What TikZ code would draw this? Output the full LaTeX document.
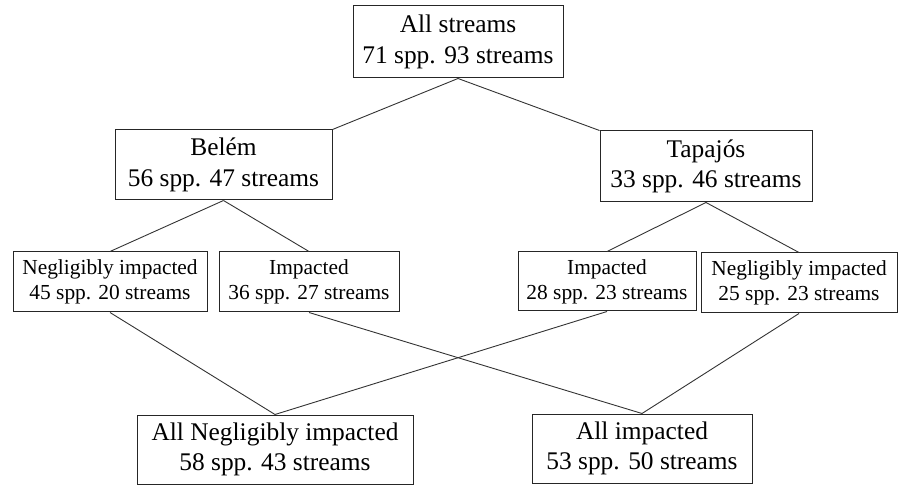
\documentclass[tikz,border=0pt]{standalone}
\usepackage{fontspec}
\setmainfont{Liberation Serif}
\begin{document}
\begin{tikzpicture}[x=1pt,y=1pt,
  bigbox/.style={draw=black!85, line width=1pt, fill=white, inner sep=0pt, align=center,
    font=\fontsize{25.4}{30.5}\selectfont},
  smallbox/.style={draw=black!85, line width=1pt, fill=white, inner sep=0pt, align=center,
    font=\fontsize{21.4}{25.2}\selectfont},
  link/.style={draw=black!80, line width=0.9pt}]
\useasboundingbox (0,0) rectangle (901,487);
% boxes (centres in px, y flipped)
\node[bigbox, minimum width=210, minimum height=72] (top) at (458,{487-42}) {All streams\\71 spp. 93 streams};
\node[bigbox, minimum width=217, minimum height=70] (bel) at (223.5,{487-165}) {Belém\\56 spp. 47 streams};
\node[bigbox, minimum width=212, minimum height=71] (tap) at (706,{487-166.5}) {Tapajós\\33 spp. 46 streams};
\node[smallbox, minimum width=194, minimum height=60] (nl) at (110,{487-282}) {Negligibly impacted\\45 spp. 20 streams};
\node[smallbox, minimum width=180, minimum height=60] (il) at (309,{487-282}) {Impacted\\36 spp. 27 streams};
\node[smallbox, minimum width=178, minimum height=59] (ir) at (607,{487-281.5}) {Impacted\\28 spp. 23 streams};
\node[smallbox, minimum width=196, minimum height=60] (nr) at (799,{487-283}) {Negligibly impacted\\25 spp. 23 streams};
\node[bigbox, minimum width=276, minimum height=69] (an) at (275,{487-449.5}) {All Negligibly impacted\\58 spp. 43 streams};
\node[bigbox, minimum width=220, minimum height=69] (ai) at (642,{487-448.5}) {All impacted\\53 spp. 50 streams};
% connectors
\begin{scope}[on background layer/.style={}]
\draw[link] (top.south) -- (bel.north east);
\draw[link] (top.south) -- (tap.north west);
\draw[link] (bel.south) -- (nl.north);
\draw[link] (bel.south) -- (il.north);
\draw[link] (tap.south) -- (ir.north);
\draw[link] (tap.south) -- (nr.north);
\draw[link] (nl.south) -- (an.north);
\draw[link] (ir.south) -- (an.north);
\draw[link] (il.south) -- (ai.north);
\draw[link] (nr.south) -- (ai.north);
\end{scope}
\end{tikzpicture}
\end{document}
